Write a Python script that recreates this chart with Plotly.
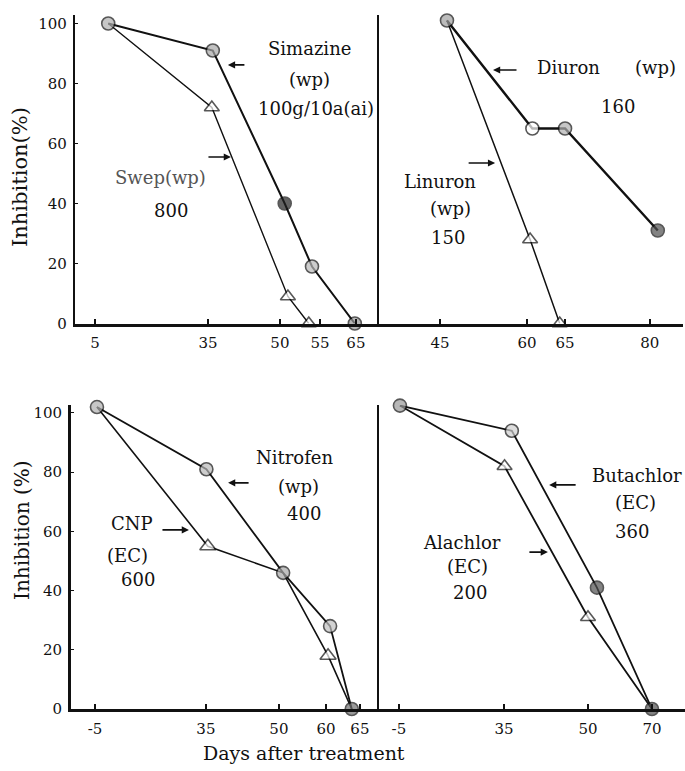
import numpy as np
import plotly.graph_objects as go

W, H = 685, 771

# ---- inhibition (%) against days after treatment ----
simazine_days = [8.5, 36, 50.6, 54, 64.7]
simazine_inh = [100, 91, 40, 19, 0]
swep_days = [8.5, 35.8, 51, 53.6]
swep_inh = [100, 72, 9, 0]

diuron_days = [46.2, 60.7, 65, 81.4]
diuron_inh = [101, 65, 65, 31]
linuron_days = [46.2, 60.4, 64.3]
linuron_inh = [101, 28, 0]

nitrofen_days = [-4.3, 35.1, 50.9, 60.6, 63.8]
nitrofen_inh = [102, 81, 46, 28, 0]
cnp_days = [-4.3, 35.4, 50.9, 60.3, 63.8]
cnp_inh = [102, 55, 46, 18, 0]

butachlor_days = [-4.6, 36.4, 52.8, 70]
butachlor_inh = [102.5, 94, 41, 0]
alachlor_days = [-4.6, 35.1, 50, 70]
alachlor_inh = [102.5, 82, 31, 0]

# ---- day ticks of each panel ----
ticks_a = [5, 35, 50, 55, 65]
ticks_b = [45, 60, 65, 80]
ticks_c = [-5, 35, 50, 60, 65]
ticks_d = [-5, 35, 50, 70]
y_ticks = [0, 20, 40, 60, 80, 100]

# the day axes are hand-spaced: where each tick sits across its panel (0..1)
scale_a = [0.066, 0.4375, 0.674, 0.806, 0.924]
scale_b = [0.2007, 0.487, 0.612, 0.891]
scale_c = [0.078, 0.438, 0.675, 0.828, 0.938]
scale_d = [0.065, 0.4085, 0.683, 0.892]


def day_scale(days, tick_days, tick_pos):
    """Piecewise-linear day scale through the tick positions, extended at both ends."""
    d = np.asarray(days, float)
    td = np.asarray(tick_days, float)
    tp = np.asarray(tick_pos, float)
    out = np.interp(d, td, tp)
    lo, hi = d < td[0], d > td[-1]
    out[lo] = tp[0] + (d[lo] - td[0]) * (tp[1] - tp[0]) / (td[1] - td[0])
    out[hi] = tp[-1] + (d[hi] - td[-1]) * (tp[-1] - tp[-2]) / (td[-1] - td[-2])
    return out


SERIF = "DejaVu Serif"
INK = "#111111"

fig = go.Figure()


def add_series(days, inh, ticks, scale, axis, symbol, fills, lw, sizes=None):
    n = len(days)
    fig.add_trace(go.Scatter(
        x=day_scale(days, ticks, scale), y=inh,
        xaxis="x" + axis, yaxis="y" + axis,
        mode="lines+markers", cliponaxis=False, showlegend=False,
        line=dict(color=INK, width=lw),
        marker=dict(symbol=symbol, size=sizes if sizes is not None else [13] * n,
                    color=fills, line=dict(color=INK, width=1.6)),
    ))


# upper left: Swep (triangles) under Simazine (circles)
add_series(swep_days, swep_inh, ticks_a, scale_a, "", "triangle-up",
           "white", 1.4, sizes=[0, 13, 13, 13])
add_series(simazine_days, simazine_inh, ticks_a, scale_a, "", "circle",
           ["#b0b0b0", "#a8a8a8", "#222222", "#b8b8b8", "#9a9a9a"], 2.0)

# upper right: Linuron under Diuron
add_series(linuron_days, linuron_inh, ticks_b, scale_b, "2", "triangle-up",
           "white", 1.5, sizes=[0, 13, 13])
add_series(diuron_days, diuron_inh, ticks_b, scale_b, "2", "circle",
           ["#a0a0a0", "white", "#b0b0b0", "#505050"], 2.4)

# lower left: CNP under Nitrofen
add_series(cnp_days, cnp_inh, ticks_c, scale_c, "3", "triangle-up",
           "white", 1.6, sizes=[0, 14, 0, 14, 0])
add_series(nitrofen_days, nitrofen_inh, ticks_c, scale_c, "3", "circle",
           ["#b0b0b0", "#b8b8b8", "#a8a8a8", "#c0c0c0", "#707070"], 1.8)

# lower right: Alachlor under Butachlor
add_series(alachlor_days, alachlor_inh, ticks_d, scale_d, "4", "triangle-up",
           "white", 1.8, sizes=[0, 13, 13, 0])
add_series(butachlor_days, butachlor_inh, ticks_d, scale_d, "4", "circle",
           ["#9a9a9a", "#d0d0d0", "#505050", "#505050"], 1.8)


def px_x(px):
    return px / W


def px_y(py):
    return 1 - py / H


top_dom = [px_y(323.5), px_y(15)]
bot_dom = [px_y(709), px_y(405)]
top_range = [0, 102.83]
bot_range = [0, 102.7]

tickfont = dict(family=SERIF, size=15, color=INK)


def xaxis(dom, anchor, ticks, scale):
    return dict(domain=dom, anchor=anchor, range=[0, 1], showgrid=False, zeroline=False,
                showline=True, linecolor=INK, linewidth=2.6, automargin=False,
                tickmode="array", tickvals=scale, ticktext=[str(t) for t in ticks],
                ticks="inside", ticklen=5, tickwidth=1.5, tickcolor=INK,
                tickfont=tickfont, ticklabelstandoff=4, fixedrange=True)


def yaxis(dom, anchor, rng, labels, lw):
    return dict(domain=dom, anchor=anchor, range=rng, showgrid=False, zeroline=False,
                showline=True, linecolor=INK, linewidth=lw, automargin=False,
                tickmode="array", tickvals=y_ticks if labels else [],
                ticks="inside" if labels else "", ticklen=3, tickwidth=1, tickcolor=INK,
                showticklabels=labels, tickfont=tickfont, ticklabelstandoff=3,
                fixedrange=True)


fig.update_layout(
    width=W, height=H, margin=dict(l=0, r=0, t=0, b=0, autoexpand=False),
    paper_bgcolor="white", plot_bgcolor="rgba(0,0,0,0)",
    xaxis=xaxis([px_x(75), px_x(379)], "y", ticks_a, scale_a),
    yaxis=yaxis(top_dom, "x", top_range, True, 2.4),
    xaxis2=xaxis([px_x(379), px_x(683)], "y2", ticks_b, scale_b),
    yaxis2=yaxis(top_dom, "x2", top_range, False, 2.2),
    xaxis3=xaxis([px_x(71), px_x(379)], "y3", ticks_c, scale_c),
    yaxis3=yaxis(bot_dom, "x3", bot_range, True, 2.8),
    xaxis4=xaxis([px_x(379), px_x(685)], "y4", ticks_d, scale_d),
    yaxis4=yaxis(bot_dom, "x4", bot_range, False, 2.0),
)

labelfont = dict(family=SERIF, size=18, color=INK)

# (panel suffix, x across panel, y in %, text, colour)
labels = [
    ("", 0.773, 91.8, "Simazine", INK),
    ("", 0.773, 81.2, "(wp)", INK),
    ("", 0.793, 71.8, "100g/10a(ai)", INK),
    ("", 0.280, 48.8, "Swep(wp)", "#555555"),
    ("", 0.316, 37.8, "800", INK),
    ("2", 0.622, 85.2, "Diuron", INK),
    ("2", 0.908, 85.2, "(wp)", INK),
    ("2", 0.786, 72.2, "160", INK),
    ("2", 0.200, 47.2, "Linuron", INK),
    ("2", 0.234, 38.5, "(wp)", INK),
    ("2", 0.227, 28.8, "150", INK),
    ("3", 0.727, 85.1, "Nitrofen", INK),
    ("3", 0.737, 75.0, "(wp)", INK),
    ("3", 0.756, 66.2, "400", INK),
    ("3", 0.198, 62.8, "CNP", INK),
    ("3", 0.185, 52.0, "(EC)", INK),
    ("3", 0.2175, 43.6, "600", INK),
    ("4", 0.843, 79.0, "Butachlor", INK),
    ("4", 0.837, 69.6, "(EC)", INK),
    ("4", 0.827, 59.8, "360", INK),
    ("4", 0.271, 56.1, "Alachlor", INK),
    ("4", 0.288, 48.0, "(EC)", INK),
    ("4", 0.297, 39.2, "200", INK),
]
for ax, x, y, t, c in labels:
    fig.add_annotation(xref="x" + ax, yref="y" + ax, x=x, y=y, text=t,
                       xanchor="center", yanchor="middle", showarrow=False,
                       font=dict(labelfont, color=c))

# short pointers from the labels to their curves: (panel, head x, head y, tail dx px)
pointers = [
    ("", 0.503, 86.2, 18),
    ("", 0.513, 55.5, -24),
    ("2", 0.375, 84.5, 25),
    ("2", 0.382, 53.5, -28),
    ("3", 0.510, 76.4, 22),
    ("3", 0.383, 60.5, -28),
    ("4", 0.556, 75.7, 28),
    ("4", 0.552, 53.0, -20),
]
for ax, x, y, dx in pointers:
    fig.add_annotation(xref="x" + ax, yref="y" + ax, x=x, y=y, ax=dx, ay=0,
                       text="", showarrow=True, arrowhead=2, arrowsize=0.9,
                       arrowwidth=1.6, arrowcolor=INK)

titles = [
    (20, 177, "Inhibition(%)", 21, -90),
    (22, 530, "Inhibition (%)", 20, -90),
    (304, 753, "Days after treatment", 19, 0),
]
for px, py, t, size, angle in titles:
    fig.add_annotation(xref="paper", yref="paper", x=px_x(px), y=px_y(py), text=t,
                       xanchor="center", yanchor="middle", textangle=angle,
                       showarrow=False, font=dict(family=SERIF, size=size, color=INK))

fig.write_html("out.html")
